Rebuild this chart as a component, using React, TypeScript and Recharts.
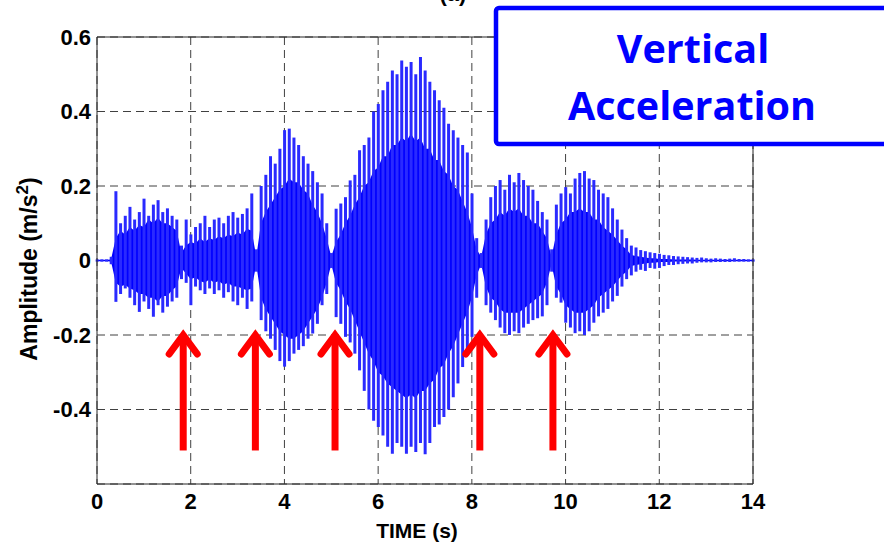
import {
  Area,
  Bar,
  CartesianGrid,
  ComposedChart,
  ReferenceLine,
  XAxis,
  YAxis,
} from "recharts";

// sample times (s), one bin every 0.1 s
const SAMPLE_TIME = [
  0, 0.1, 0.2, 0.3, 0.4, 0.5, 0.6, 0.7, 0.8, 0.9,
  1, 1.1, 1.2, 1.3, 1.4, 1.5, 1.6, 1.7, 1.8, 1.9,
  2, 2.1, 2.2, 2.3, 2.4, 2.5, 2.6, 2.7, 2.8, 2.9,
  3, 3.1, 3.2, 3.3, 3.4, 3.5, 3.6, 3.7, 3.8, 3.9,
  4, 4.1, 4.2, 4.3, 4.4, 4.5, 4.6, 4.7, 4.8, 4.9,
  5, 5.1, 5.2, 5.3, 5.4, 5.5, 5.6, 5.7, 5.8, 5.9,
  6, 6.1, 6.2, 6.3, 6.4, 6.5, 6.6, 6.7, 6.8, 6.9,
  7, 7.1, 7.2, 7.3, 7.4, 7.5, 7.6, 7.7, 7.8, 7.9,
  8, 8.1, 8.2, 8.3, 8.4, 8.5, 8.6, 8.7, 8.8, 8.9,
  9, 9.1, 9.2, 9.3, 9.4, 9.5, 9.6, 9.7, 9.8, 9.9,
  10, 10.1, 10.2, 10.3, 10.4, 10.5, 10.6, 10.7, 10.8, 10.9,
  11, 11.1, 11.2, 11.3, 11.4, 11.5, 11.6, 11.7, 11.8, 11.9,
  12, 12.1, 12.2, 12.3, 12.4, 12.5, 12.6, 12.7, 12.8, 12.9,
  13, 13.1, 13.2, 13.3, 13.4, 13.5, 13.6, 13.7, 13.8, 13.9,
  14,
];

// highest / lowest spike in each bin (m/s^2)
const PEAK_HI = [
  0.003, 0.003, 0.003, 0.01, 0.186, 0.1, 0.12, 0.144, 0.11, 0.13,
  0.166, 0.12, 0.15, 0.162, 0.13, 0.14, 0.12, 0.11, 0.04, 0.11,
  0.07, 0.09, 0.1, 0.12, 0.09, 0.11, 0.115, 0.1, 0.12, 0.13,
  0.115, 0.125, 0.14, 0.18, 0.03, 0.2, 0.23, 0.28, 0.26, 0.3,
  0.35, 0.354, 0.33, 0.31, 0.28, 0.26, 0.24, 0.21, 0.18, 0.1,
  0.02, 0.139, 0.153, 0.17, 0.215, 0.23, 0.296, 0.31, 0.33, 0.4,
  0.42, 0.457, 0.48, 0.51, 0.5, 0.537, 0.52, 0.533, 0.5, 0.546,
  0.51, 0.48, 0.457, 0.43, 0.41, 0.367, 0.35, 0.33, 0.31, 0.29,
  0.18, 0.06, 0.02, 0.11, 0.17, 0.2, 0.216, 0.19, 0.23, 0.21,
  0.235, 0.216, 0.2, 0.19, 0.16, 0.13, 0.11, 0.03, 0.15, 0.18,
  0.197, 0.18, 0.22, 0.235, 0.24, 0.22, 0.216, 0.19, 0.18, 0.17,
  0.14, 0.11, 0.083, 0.06, 0.04, 0.035, 0.028, 0.025, 0.022, 0.02,
  0.018, 0.015, 0.014, 0.012, 0.011, 0.01, 0.009, 0.008, 0.007, 0.008,
  0.006, 0.005, 0.006, 0.005, 0.004, 0.005, 0.006, 0.004, 0.004, 0.003,
  0.003,
];

const PEAK_LO = [
  -0.003, -0.003, -0.003, -0.01, -0.111, -0.09, -0.075, -0.1, -0.12, -0.138,
  -0.11, -0.13, -0.151, -0.12, -0.14, -0.124, -0.11, -0.1, -0.05, -0.06,
  -0.12, -0.07, -0.08, -0.09, -0.075, -0.09, -0.08, -0.1, -0.085, -0.11,
  -0.12, -0.1, -0.13, -0.11, -0.03, -0.16, -0.19, -0.21, -0.24, -0.27,
  -0.285, -0.27, -0.25, -0.24, -0.23, -0.21, -0.196, -0.17, -0.12, -0.09,
  -0.02, -0.152, -0.17, -0.205, -0.22, -0.25, -0.295, -0.35, -0.4, -0.43,
  -0.447, -0.47, -0.5, -0.519, -0.49, -0.5, -0.519, -0.5, -0.514, -0.49,
  -0.52, -0.49, -0.447, -0.44, -0.42, -0.4, -0.367, -0.33, -0.286, -0.25,
  -0.205, -0.1, -0.02, -0.12, -0.14, -0.16, -0.18, -0.195, -0.2, -0.19,
  -0.195, -0.18, -0.17, -0.16, -0.155, -0.15, -0.12, -0.03, -0.1, -0.113,
  -0.167, -0.18, -0.195, -0.19, -0.2, -0.19, -0.167, -0.15, -0.14, -0.13,
  -0.11, -0.095, -0.07, -0.05, -0.04, -0.03, -0.025, -0.028, -0.02, -0.022,
  -0.02, -0.015, -0.012, -0.012, -0.01, -0.009, -0.008, -0.008, -0.006, -0.005,
  -0.005, -0.005, -0.004, -0.004, -0.004, -0.004, -0.003, -0.003, -0.003, -0.003,
  -0.003,
];

// dense part of the oscillation in each bin
const CORE_HI = [
  0.002, 0.002, 0.002, 0.003, 0.06, 0.08, 0.07, 0.09, 0.08, 0.095,
  0.09, 0.11, 0.1, 0.115, 0.1, 0.1, 0.09, 0.08, 0.02, 0.04,
  0.05, 0.045, 0.06, 0.05, 0.06, 0.055, 0.065, 0.06, 0.07, 0.065,
  0.075, 0.07, 0.085, 0.08, 0.01, 0.1, 0.13, 0.15, 0.17, 0.19,
  0.2, 0.22, 0.21, 0.21, 0.19, 0.18, 0.15, 0.13, 0.1, 0.06,
  0.01, 0.05, 0.07, 0.1, 0.12, 0.15, 0.17, 0.2, 0.21, 0.24,
  0.25, 0.28, 0.28, 0.31, 0.31, 0.33, 0.32, 0.34, 0.32, 0.33,
  0.3, 0.3, 0.27, 0.27, 0.24, 0.23, 0.2, 0.19, 0.16, 0.13,
  0.09, 0.03, 0.01, 0.07, 0.1, 0.11, 0.13, 0.12, 0.14, 0.13,
  0.14, 0.12, 0.12, 0.1, 0.1, 0.08, 0.06, 0.01, 0.07, 0.1,
  0.11, 0.13, 0.13, 0.14, 0.13, 0.13, 0.11, 0.11, 0.09, 0.08,
  0.07, 0.055, 0.04, 0.03, 0.015, 0.012, 0.01, 0.008, 0.006, 0.006,
  0.004, 0.004, 0.004, 0.003, 0.003, 0.003, 0.003, 0.003, 0.002, 0.002,
  0.002, 0.002, 0.002, 0.002, 0.002, 0.002, 0.002, 0.002, 0.002, 0.002,
  0.002,
];

const CORE_LO = [
  -0.002, -0.002, -0.002, -0.003, -0.06, -0.07, -0.065, -0.075, -0.08, -0.09,
  -0.09, -0.1, -0.1, -0.11, -0.095, -0.095, -0.08, -0.07, -0.02, -0.035,
  -0.05, -0.045, -0.055, -0.06, -0.05, -0.06, -0.055, -0.065, -0.06, -0.07,
  -0.07, -0.075, -0.08, -0.075, -0.01, -0.1, -0.13, -0.15, -0.17, -0.19,
  -0.2, -0.21, -0.21, -0.2, -0.19, -0.17, -0.15, -0.13, -0.1, -0.06,
  -0.01, -0.06, -0.08, -0.11, -0.13, -0.16, -0.19, -0.22, -0.25, -0.27,
  -0.3, -0.31, -0.33, -0.34, -0.35, -0.36, -0.37, -0.36, -0.37, -0.35,
  -0.35, -0.33, -0.32, -0.29, -0.28, -0.25, -0.23, -0.2, -0.17, -0.14,
  -0.1, -0.04, -0.01, -0.07, -0.1, -0.11, -0.13, -0.14, -0.14, -0.14,
  -0.14, -0.13, -0.12, -0.11, -0.1, -0.09, -0.06, -0.01, -0.07, -0.09,
  -0.12, -0.13, -0.14, -0.14, -0.14, -0.13, -0.12, -0.1, -0.09, -0.08,
  -0.07, -0.055, -0.04, -0.03, -0.015, -0.012, -0.01, -0.008, -0.006, -0.006,
  -0.004, -0.004, -0.004, -0.003, -0.003, -0.003, -0.003, -0.003, -0.002, -0.002,
  -0.002, -0.002, -0.002, -0.002, -0.002, -0.002, -0.002, -0.002, -0.002, -0.002,
  -0.002,
];

const X_TICKS = [0, 2, 4, 6, 8, 10, 12, 14];
const Y_TICKS = [-0.4, -0.2, 0, 0.2, 0.4, 0.6];

// gaps between the bursts (s), marked with red arrows
const ARROW_TIMES = [1.84, 3.38, 5.08, 8.17, 9.73];
const ARROW_TAIL = -0.51;
const ARROW_TIP = -0.184;

const rows = SAMPLE_TIME.map((t, i) => ({
  t,
  peak: [PEAK_LO[i], PEAK_HI[i]],
  core: [CORE_LO[i], CORE_HI[i]],
}));

const FONT = "'Liberation Sans', Arial, sans-serif";
const FRAME = "#262626";

const Arrow = (props: any) => {
  const { x1, y1, x2, y2 } = props;
  return (
    <g>
      <line x1={x1} y1={y1} x2={x2} y2={y2 + 6} stroke="#ff0000" strokeWidth={7} />
      <polyline
        points={`${x2 - 14},${y2 + 25} ${x2},${y2 + 6} ${x2 + 14},${y2 + 25}`}
        fill="none"
        stroke="#ff0000"
        strokeWidth={7}
        strokeLinecap="round"
        strokeLinejoin="miter"
      />
    </g>
  );
};

export default function App() {
  return (
    <div style={{ position: "absolute", left: 0, top: 0, width: 884, height: 545, background: "#fff" }}>
      <ComposedChart
        width={884}
        height={545}
        data={rows}
        margin={{ top: 37, right: 131, bottom: 0, left: 0 }}
      >
        <CartesianGrid stroke="#404040" strokeDasharray="8 5" />
        <XAxis
          dataKey="t"
          type="number"
          domain={[0, 14]}
          ticks={X_TICKS}
          height={61}
          stroke={FRAME}
          tickLine={false}
          tickSize={6}
          tickMargin={3}
          tick={{ fill: "#000", fontSize: 22, fontWeight: 700, fontFamily: FONT }}
          label={() => (
            <text
              x={417}
              y={538}
              textAnchor="middle"
              fontSize={21}
              fontWeight={700}
              fontFamily={FONT}
              fill="#000"
            >
              TIME (s)
            </text>
          )}
        />
        <YAxis
          type="number"
          domain={[-0.6, 0.6]}
          ticks={Y_TICKS}
          width={97}
          stroke={FRAME}
          tickLine={false}
          tickSize={4}
          tickMargin={2}
          tick={{ fill: "#000", fontSize: 22, fontWeight: 700, fontFamily: FONT }}
          label={() => (
            <text
              x={37}
              y={269}
              transform="rotate(-90 37 269)"
              textAnchor="middle"
              fontSize={23}
              fontWeight={700}
              fontFamily={FONT}
              fill="#000"
            >
              Amplitude (m/s
              <tspan dy={-9} fontSize={17}>2</tspan>
              <tspan dy={9}>)</tspan>
            </text>
          )}
        />
        <Area
          dataKey="core"
          type="linear"
          stroke="none"
          fill="#0000ff"
          fillOpacity={1}
          isAnimationActive={false}
        />
        <Bar dataKey="peak" barSize={3} fill="#2a2aff" isAnimationActive={false} />
        <ReferenceLine y={0.6} stroke={FRAME} />
        <ReferenceLine x={14} stroke={FRAME} />
        {ARROW_TIMES.map((t) => (
          <ReferenceLine
            key={t}
            segment={[
              { x: t, y: ARROW_TAIL },
              { x: t, y: ARROW_TIP },
            ]}
            shape={Arrow}
          />
        ))}
      </ComposedChart>
      <svg
        width={884}
        height={545}
        style={{ position: "absolute", left: 0, top: 0, pointerEvents: "none" }}
      >
        <text x={453} y={1} textAnchor="middle" fontSize={22} fontWeight={700} fontFamily={FONT}>
          (a)
        </text>
        <rect x={496} y={8} width={396} height={136} rx={3} fill="#fff" stroke="#0000ff" strokeWidth={4.5} />
        <g fill="#0000ff" fontFamily="'Open Sans', sans-serif" fontWeight={700} fontSize={39.5} textAnchor="middle">
          <text x={693} y={63}>Vertical</text>
          <text x={692} y={120}>Acceleration</text>
        </g>
      </svg>
    </div>
  );
}
